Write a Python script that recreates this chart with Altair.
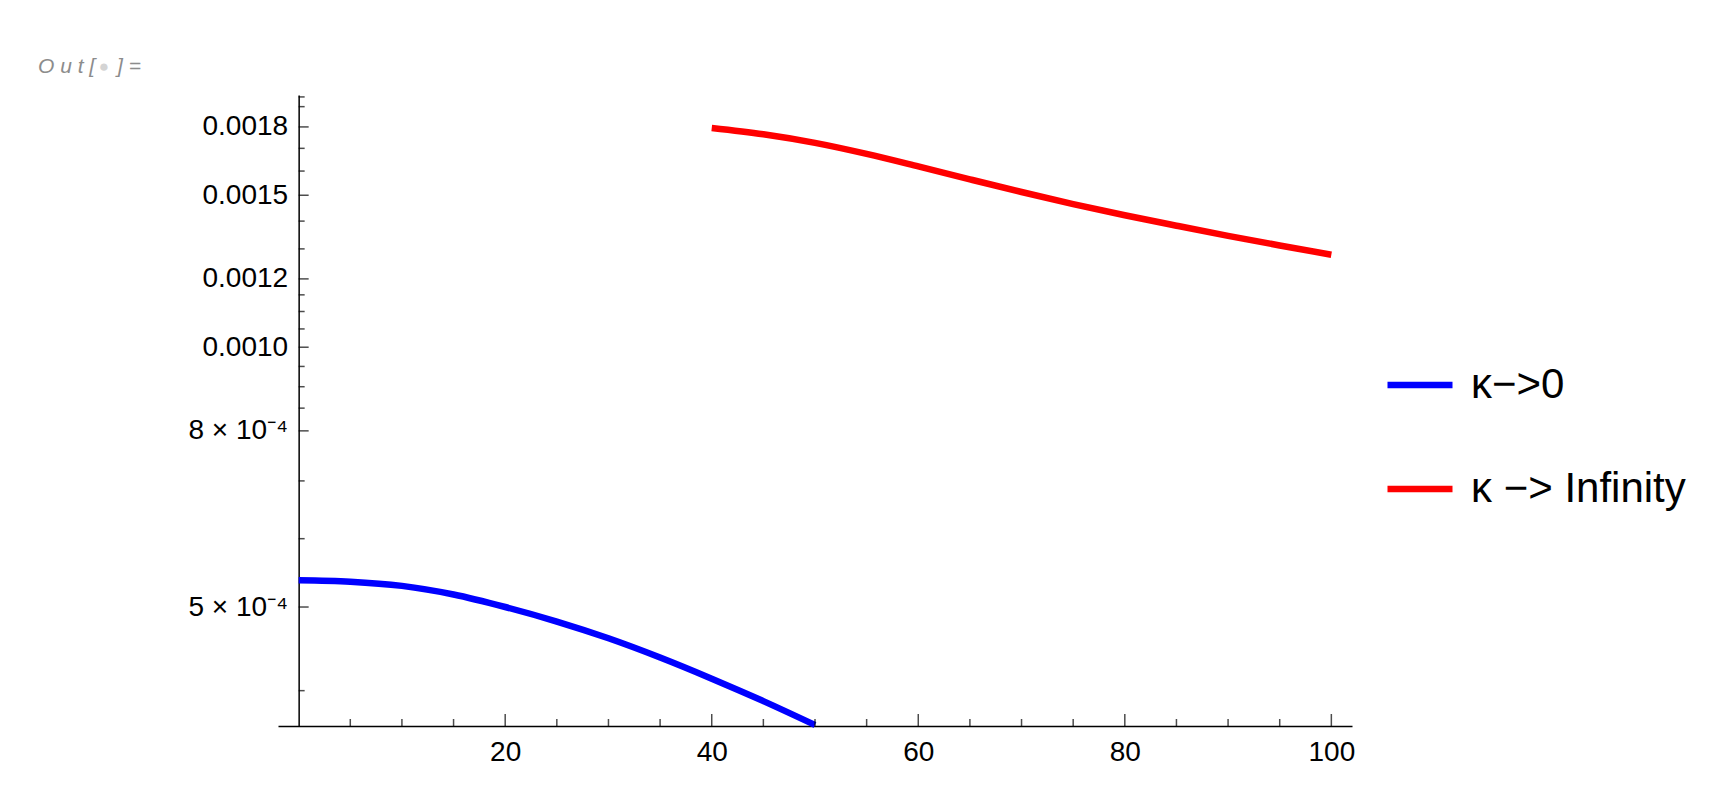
import altair as alt
import pandas as pd

# ---- data ----
blue_name = "κ−>0"
red_name = "κ −> Infinity"
blue_x = [0, 5, 10, 15, 20, 25, 30, 35, 40, 45, 50]
blue_y = [5.37e-4, 5.35e-4, 5.29e-4, 5.17e-4, 5.00e-4, 4.81e-4, 4.60e-4, 4.37e-4, 4.13e-4, 3.89e-4, 3.65e-4]
red_x = [40, 45, 50, 55, 60, 65, 70, 75, 80, 85, 90, 95, 100]
red_y = [0.001795, 0.001765, 0.001725, 0.001675, 0.001620, 0.001565, 0.001513, 0.001465,
         0.001422, 0.001383, 0.001346, 0.001312, 0.00128]

x_major = [20, 40, 60, 80, 100]
x_minor = [5, 10, 15, 25, 30, 35, 45, 50, 55, 65, 70, 75, 85, 90, 95]
y_major = [0.0005, 0.0008, 0.0010, 0.0012, 0.0015, 0.0018]
y_major_labels = ["5 × 10⁻⁴", "8 × 10⁻⁴", "0.0010", "0.0012", "0.0015", "0.0018"]
y_minor = [0.0004, 0.0006, 0.0007, 0.00085, 0.0009, 0.00095, 0.00105, 0.0011, 0.00115,
           0.0013, 0.0014, 0.0016, 0.0017, 0.0019, 0.00195]

x_domain = [-2, 102]
y_domain = [3.64e-4, 1.96e-3]

FONT = "Liberation Sans"

df = pd.DataFrame({
    "x": blue_x + red_x,
    "y": blue_y + red_y,
    "series": [blue_name] * len(blue_x) + [red_name] * len(red_x),
})

label_expr = ""
for v, lab in zip(y_major, y_major_labels):
    label_expr += f"abs(datum.value - {v}) < 1e-9 ? '{lab}' : "
label_expr += "''"

xscale = alt.Scale(domain=x_domain, nice=False, zero=False)
yscale = alt.Scale(type="log", domain=y_domain, nice=False)

xaxis = alt.Axis(values=x_major, ticks=False, tickSize=0, domain=True, domainColor="black",
                 domainWidth=1.5, labelFont=FONT, labelFontSize=28, labelColor="black",
                 labelPadding=12, grid=False, title=None, labelFlush=False)
yaxis = alt.Axis(values=y_major, labelExpr=label_expr, ticks=False, tickSize=0, offset=-20.65,
                 domain=True, domainColor="black", domainWidth=1.5, labelFont=FONT,
                 labelFontSize=28, labelColor="black", labelPadding=11, grid=False,
                 title=None, labelFlush=False)


def X(field=None, datum=None):
    if datum is not None:
        return alt.XDatum(datum, type="quantitative", scale=xscale, axis=xaxis)
    return alt.X(field, type="quantitative", scale=xscale, axis=xaxis)


def Y(field=None, datum=None):
    if datum is not None:
        return alt.YDatum(datum, type="quantitative", scale=yscale, axis=yaxis)
    return alt.Y(field, type="quantitative", scale=yscale, axis=yaxis)


lines = alt.Chart(df).mark_line(strokeWidth=6.5, interpolate="monotone").encode(
    x=X("x"),
    y=Y("y"),
    color=alt.Color(
        "series:N",
        scale=alt.Scale(domain=[blue_name, red_name], range=["#0000ff", "#ff0000"]),
        legend=alt.Legend(orient="none", legendX=1106, legendY=254, title=None,
                          symbolType="stroke", symbolSize=4225, symbolStrokeWidth=6.5,
                          labelFont=FONT, labelFontSize=42, labelColor="black",
                          labelOffset=15, rowPadding=47, padding=0, labelLimit=0),
    ),
    order=alt.Order("x:Q"),
)

xmaj = alt.Chart(pd.DataFrame({"t": x_major})).mark_tick(
    orient="vertical", size=12, thickness=1.5, color="black", yOffset=-6
).encode(x=X("t"), y=Y(datum=y_domain[0]))

xmin = alt.Chart(pd.DataFrame({"t": x_minor})).mark_tick(
    orient="vertical", size=7, thickness=1.5, color="black", yOffset=-3.5
).encode(x=X("t"), y=Y(datum=y_domain[0]))

ymaj = alt.Chart(pd.DataFrame({"t": y_major})).mark_tick(
    orient="horizontal", size=10, thickness=1.5, color="black", xOffset=5
).encode(y=Y("t"), x=X(datum=0))

ymin = alt.Chart(pd.DataFrame({"t": y_minor})).mark_tick(
    orient="horizontal", size=6, thickness=1.5, color="black", xOffset=3
).encode(y=Y("t"), x=X(datum=0))

one = pd.DataFrame({"a": [0]})
out1 = alt.Chart(one).mark_text(font=FONT, fontSize=21, fontStyle="italic", color="#8c8c8c",
                                align="left", baseline="alphabetic").encode(
    x=alt.value(-240), y=alt.value(-22), text=alt.value("O u t ["))
out2 = alt.Chart(one).mark_text(font=FONT, fontSize=17, color="#d4d4d4",
                                align="center", baseline="middle").encode(
    x=alt.value(-174), y=alt.value(-28), text=alt.value("●"))
out3 = alt.Chart(one).mark_text(font=FONT, fontSize=21, fontStyle="italic", color="#8c8c8c",
                                align="left", baseline="alphabetic").encode(
    x=alt.value(-161), y=alt.value(-22), text=alt.value("]  ="))

chart = alt.layer(lines, xmaj, xmin, ymaj, ymin, out1, out2, out3).properties(
    width=1074, height=631,
    autosize=alt.AutoSizeParams(type="none"),
    padding={"left": 270, "top": 87, "right": 368, "bottom": 50},
    background="white",
).configure_view(stroke=None)

chart.save("out.html", embed_options={"renderer": "svg", "actions": False})
